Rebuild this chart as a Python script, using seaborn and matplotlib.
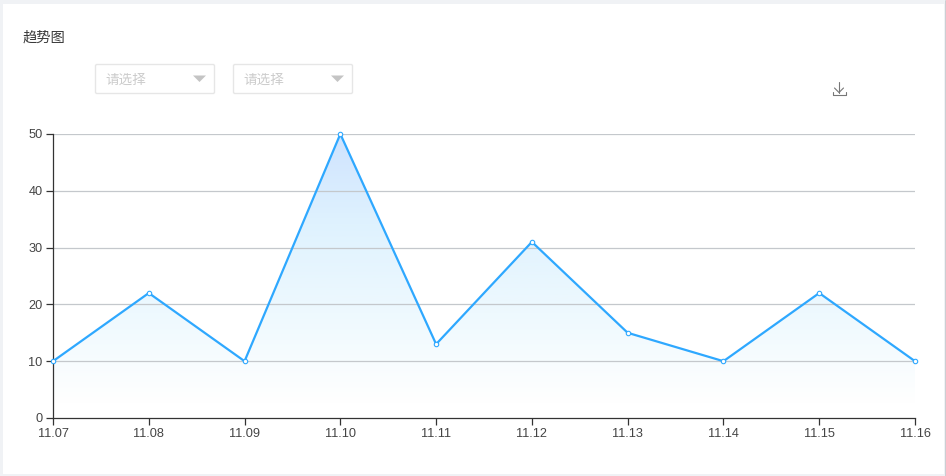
import numpy as np
import pandas as pd
import matplotlib
matplotlib.use("Agg")
import matplotlib.pyplot as plt
from matplotlib.colors import LinearSegmentedColormap
from matplotlib.patches import Rectangle, FancyBboxPatch, Polygon
import seaborn as sns

dates = ["11.07", "11.08", "11.09", "11.10", "11.11", "11.12", "11.13", "11.14", "11.15", "11.16"]
values = [10, 22, 10, 50, 13, 31, 15, 10, 22, 10]
y_ticks = [0, 10, 20, 30, 40, 50]
title = "趋势图"
placeholder = "请选择"

W, H = 946, 476
sns.set_theme(style="white")
plt.rcParams["font.family"] = ["Noto Sans CJK SC", "DejaVu Sans"]

fig = plt.figure(figsize=(W / 100, H / 100), dpi=100, facecolor="#f0f2f5")

# page chrome in pixel coordinates
bg = fig.add_axes([0, 0, 1, 1], zorder=0)
bg.set_xlim(0, W)
bg.set_ylim(H, 0)
bg.axis("off")
bg.add_patch(Rectangle((3, 4), 941, 470, fc="white", ec="none"))
bg.plot([945.5, 945.5], [0, H], color="#3a3f45", lw=1)
bg.text(23, 37.5, title, fontsize=10.3, color="#3a3a3a", va="center", ha="left")
for x0 in (95, 233):
    bg.add_patch(FancyBboxPatch((x0 + 0.5, 64.5), 119, 29, boxstyle="round,pad=0,rounding_size=1.5",
                                fc="white", ec="#e6e6e6", lw=1))
    bg.text(x0 + 10.5, 80, placeholder, fontsize=9.8, color="#cccccc", va="center", ha="left")
    bg.add_patch(Polygon([[x0 + 98, 75.5], [x0 + 111, 75.5], [x0 + 104.5, 82]], closed=True, fc="#c4c4c4", ec="none"))
# download icon
ic = "#777777"
bg.plot([839, 839], [81.5, 92.5], color=ic, lw=0.8)
bg.plot([834.5, 839, 843.5], [88, 92.5, 88], color=ic, lw=0.8)
bg.plot([833, 833, 845.5, 845.5], [91.5, 95, 95, 91.5], color=ic, lw=0.8)

# plot area: x 53..915, y 134..418 px
ax = fig.add_axes([53 / W, 1 - 418 / H, (915 - 53) / W, (418 - 134) / H], zorder=1)
ax.patch.set_alpha(0)
df = pd.DataFrame({"date": dates, "value": values})
xs = np.arange(len(dates))

ax.set_xlim(0, len(dates) - 1)
ax.set_ylim(0, 50)

# gradient area under the line, fading out just above the baseline
cmap = LinearSegmentedColormap.from_list("area", ["#ffffff", "#eef9fe", "#dff2fe", "#cfe3ff"])
grad = np.clip((np.linspace(0, 1, 256) - 0.05) / 0.95, 0, 1).reshape(-1, 1)
im = ax.imshow(grad, extent=(0, len(dates) - 1, 0, 50), origin="lower", aspect="auto", cmap=cmap,
               vmin=0, vmax=1, zorder=1)
clip = Polygon(np.column_stack([np.r_[xs, xs[-1], xs[0]], np.r_[values, 0, 0]]),
               closed=True, transform=ax.transData, fc="none", ec="none")
ax.add_patch(clip)
im.set_clip_path(clip)

for t in y_ticks[1:]:
    ax.axhline(t, color="#c4c8cc", lw=0.9, zorder=2)

sns.lineplot(data=df, x=xs, y="value", ax=ax, color="#2ea8ff", lw=1.6, zorder=3,
             marker="o", markersize=3.2, markerfacecolor="white", markeredgecolor="#2ea8ff",
             markeredgewidth=0.8, clip_on=False, errorbar=None)

ax.set_xlabel("")
ax.set_ylabel("")
ax.set_xticks(xs, dates)
ax.set_yticks(y_ticks)
ax.tick_params(axis="both", length=5, width=0.9, color="#333333", labelsize=9.2, labelcolor="#444444",
               pad=2.5, bottom=True, left=True)
for lab in ax.get_xticklabels() + ax.get_yticklabels():
    lab.set_family(["Liberation Sans", "DejaVu Sans"])
ax.tick_params(axis="x", pad=2)
for s in ("top", "right"):
    ax.spines[s].set_visible(False)
for s in ("left", "bottom"):
    ax.spines[s].set_color("#333333")
    ax.spines[s].set_linewidth(0.9)

fig.savefig("out.png", dpi=100, facecolor=fig.get_facecolor())
